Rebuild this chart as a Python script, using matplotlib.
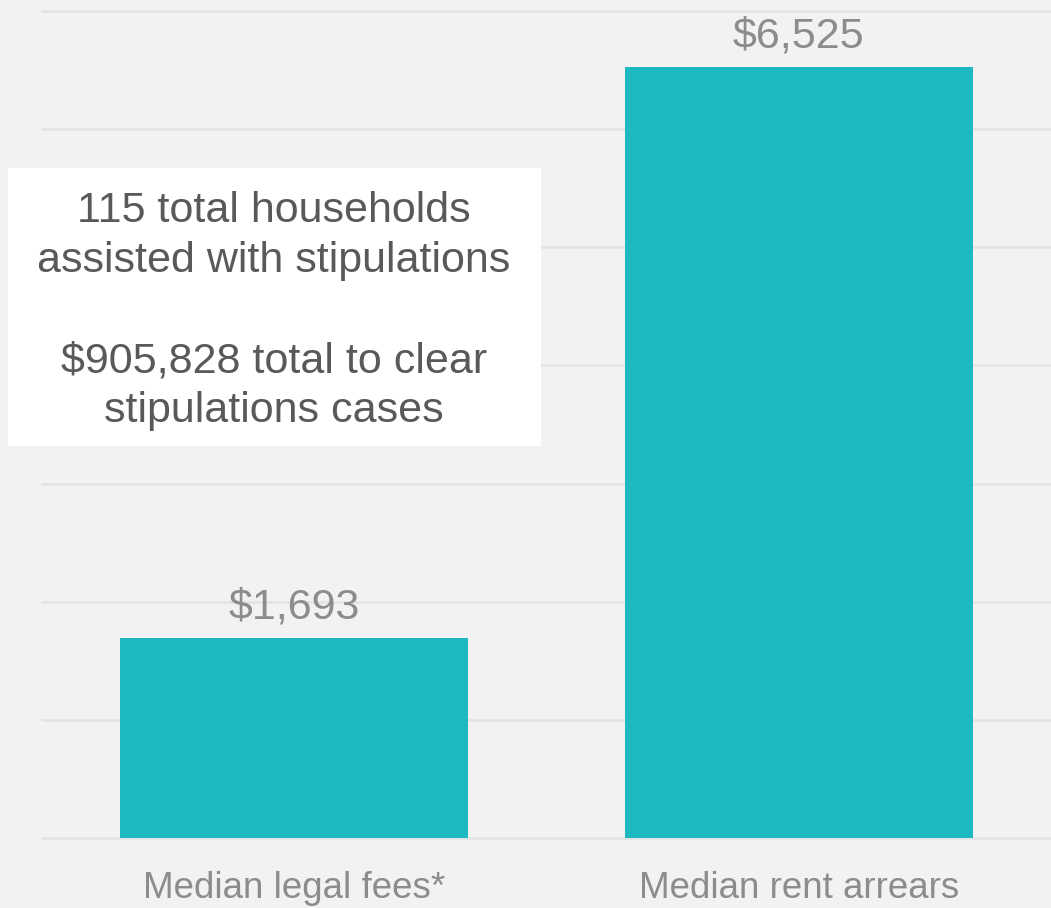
import matplotlib.pyplot as plt
from matplotlib.patches import Rectangle

categories = ['Median legal fees*', 'Median rent arrears']
values = [1693, 6525]
value_labels = ['$1,693', '$6,525']
note_lines = ['115 total households', 'assisted with stipulations', '',
              '$905,828 total to clear', 'stipulations cases']

plt.rcParams['font.family'] = ['Liberation Sans', 'DejaVu Sans']

W, H = 1051, 908
fig = plt.figure(figsize=(W / 100, H / 100), dpi=100)
fig.patch.set_facecolor('#F2F2F2')

# axes placed so that 0 sits on the baseline and 7000 on the top gridline
ax = fig.add_axes([42 / W, (H - 838) / H, 1 - 42 / W, (838 - 11) / H])
ax.set_facecolor('#F2F2F2')
ax.set_xlim(-0.5, 1.5)
ax.set_ylim(0, 7000)

ax.set_yticks(range(0, 7001, 1000))
ax.yaxis.grid(True, color='#E3E3E3', linewidth=1.8)
for gl in ax.get_ygridlines():
    gl.set_clip_on(False)
ax.set_axisbelow(True)
ax.tick_params(axis='y', left=False, labelleft=False)
ax.tick_params(axis='x', bottom=False, pad=20, labelsize=26.5, labelcolor='#8C8C8C')
for s in ax.spines.values():
    s.set_visible(False)

x = list(range(len(categories)))
bars = ax.bar(x, values, width=0.69, color='#1EB8C0', zorder=2)
ax.set_xticks(x)
ax.set_xticklabels(categories)

for b, lab in zip(bars, value_labels):
    ax.annotate(lab, (b.get_x() + b.get_width() / 2, b.get_height()),
                xytext=(0, 22), textcoords='offset points',
                ha='center', va='center', fontsize=31, color='#8C8C8C')

# white note box
fig.patches.append(Rectangle((8 / W, (H - 446) / H), 533 / W, 278 / H,
                             transform=fig.transFigure, facecolor='white',
                             edgecolor='none', zorder=3))
fig.text(274 / W, (H - 311) / H, '\n'.join(note_lines), ha='center', va='center',
         fontsize=31, color='#595959', linespacing=1.33, zorder=4)

fig.savefig('out.png', dpi=100, facecolor=fig.get_facecolor())
